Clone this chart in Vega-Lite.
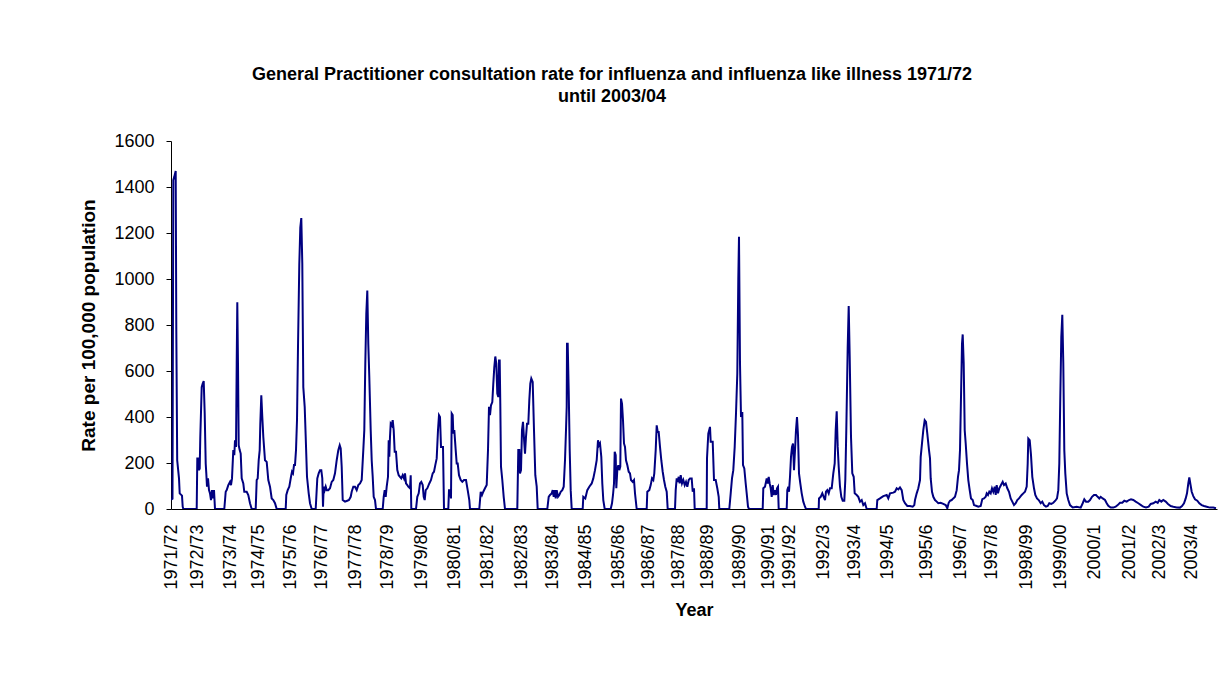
{
  "$schema": "https://vega.github.io/schema/vega-lite/v6.json",
  "autosize": {"type": "none"},
  "width": 1046,
  "height": 368,
  "padding": {"left": 171, "top": 141, "right": 1, "bottom": 164},
  "background": "white",
  "config": {"view": {"stroke": null}, "font": "Liberation Sans"},
  "title": {
    "text": ["General Practitioner consultation rate for influenza and influenza like illness 1971/72", "until 2003/04"],
    "fontSize": 18, "fontWeight": "bold", "font": "Liberation Sans", "color": "black",
    "lineHeight": 22, "anchor": "middle", "frame": "group", "dx": -82, "offset": 26
  },
  "data": {"values": [
{"t":0,"v":40},{"t":1.5,"v":45},{"t":2.3,"v":1430},{"t":3.3,"v":1445},{"t":4.7,"v":1470},{"t":5.3,"v":780},{"t":6.2,"v":212},{"t":8,"v":133},{"t":8.7,"v":68},{"t":11,"v":58},{"t":11.7,"v":10},{"t":12.3,"v":0},{"t":25.7,"v":0},
{"t":26.3,"v":220},{"t":27.3,"v":220},{"t":28,"v":169},{"t":28.7,"v":176},{"t":29.3,"v":314},{"t":30.7,"v":530},{"t":31.7,"v":545},{"t":32.7,"v":556},{"t":33.7,"v":415},{"t":34.7,"v":198},{"t":35.3,"v":155},{"t":36,"v":97},{"t":37,"v":133},{"t":38,"v":82},{"t":39,"v":68},{"t":40,"v":39},{"t":41,"v":82},{"t":42,"v":46},{"t":43,"v":82},{"t":44,"v":0},{"t":53.3,"v":0},
{"t":54.7,"v":75},{"t":55.7,"v":82},{"t":57.3,"v":104},{"t":59,"v":118},{"t":60,"v":104},{"t":61,"v":133},{"t":62.3,"v":256},{"t":63.3,"v":234},{"t":64,"v":299},{"t":65,"v":270},{"t":65.7,"v":632},{"t":66.3,"v":899},{"t":67,"v":632},{"t":67.7,"v":277},{"t":68.7,"v":256},{"t":69.7,"v":241},{"t":70.7,"v":133},{"t":72.3,"v":111},{"t":73.3,"v":75},{"t":75.7,"v":75},{"t":77.3,"v":61},{"t":79,"v":25},{"t":80.7,"v":0},{"t":84.7,"v":0},
{"t":85.7,"v":126},{"t":86.7,"v":133},{"t":87.7,"v":212},{"t":88.7,"v":256},{"t":89.3,"v":371},{"t":90.3,"v":494},{"t":91.3,"v":400},{"t":92.3,"v":314},{"t":94,"v":212},{"t":95.7,"v":205},{"t":97.3,"v":126},{"t":99,"v":97},{"t":100.7,"v":46},{"t":102.3,"v":39},{"t":104,"v":25},{"t":105.7,"v":0},{"t":114.7,"v":0},
{"t":115.3,"v":61},{"t":116.7,"v":82},{"t":118.3,"v":97},{"t":120,"v":140},{"t":121,"v":162},{"t":122,"v":155},{"t":123,"v":191},{"t":124,"v":191},{"t":125,"v":256},{"t":126,"v":386},{"t":127,"v":704},{"t":128.3,"v":1065},{"t":129.3,"v":1224},{"t":130.3,"v":1265},{"t":131.3,"v":1065},{"t":132.3,"v":530},{"t":133.7,"v":444},{"t":134.7,"v":314},{"t":136,"v":140},{"t":137.7,"v":68},{"t":139,"v":25},{"t":140.7,"v":0},{"t":144.7,"v":0},
{"t":146.3,"v":133},{"t":147.7,"v":155},{"t":149,"v":169},{"t":150.3,"v":169},{"t":151.3,"v":133},{"t":152,"v":10},{"t":152.7,"v":97},{"t":153.7,"v":82},{"t":154.7,"v":97},{"t":155.7,"v":82},{"t":157.3,"v":82},{"t":159,"v":90},{"t":160.7,"v":118},{"t":162.3,"v":126},{"t":164,"v":155},{"t":165.7,"v":212},{"t":167.3,"v":256},{"t":168.7,"v":277},{"t":169.7,"v":263},{"t":170.7,"v":184},{"t":171.7,"v":39},{"t":174,"v":32},{"t":176.3,"v":36},{"t":178,"v":39},{"t":179.7,"v":53},
{"t":180.7,"v":75},{"t":182.3,"v":97},{"t":184,"v":97},{"t":185.7,"v":82},{"t":187.3,"v":104},{"t":189,"v":111},{"t":190.7,"v":126},{"t":192.3,"v":256},{"t":193.3,"v":343},{"t":194.3,"v":632},{"t":195.3,"v":848},{"t":196.3,"v":950},{"t":197.3,"v":718},{"t":198.3,"v":574},{"t":199.7,"v":343},{"t":200.7,"v":212},{"t":201.7,"v":140},{"t":202.7,"v":53},{"t":204,"v":39},{"t":205,"v":0},{"t":211.7,"v":0},
{"t":212.7,"v":53},{"t":213.7,"v":82},{"t":214.7,"v":53},{"t":215.7,"v":97},{"t":217,"v":140},{"t":217.7,"v":299},{"t":218.3,"v":227},{"t":219,"v":314},{"t":219.7,"v":371},{"t":220.7,"v":364},{"t":221.7,"v":386},{"t":222.7,"v":343},{"t":223.7,"v":249},{"t":225,"v":249},{"t":226.3,"v":169},{"t":227.7,"v":147},{"t":229,"v":140},{"t":230.3,"v":133},{"t":231.7,"v":147},{"t":233,"v":133},{"t":234,"v":155},{"t":235,"v":111},{"t":236.3,"v":104},{"t":237.3,"v":97},{"t":239,"v":90},{"t":239.7,"v":147},{"t":240.3,"v":0},{"t":245,"v":0},
{"t":246.3,"v":53},{"t":247.7,"v":68},{"t":249,"v":111},{"t":250.3,"v":118},{"t":251.7,"v":104},{"t":252.7,"v":53},{"t":253.7,"v":39},{"t":254.7,"v":82},{"t":256.3,"v":90},{"t":258.3,"v":111},{"t":260,"v":126},{"t":261.7,"v":155},{"t":263,"v":162},{"t":264.3,"v":191},{"t":265.7,"v":220},{"t":267,"v":343},{"t":268,"v":408},{"t":269,"v":400},{"t":270,"v":270},{"t":272,"v":270},{"t":273,"v":0},{"t":277.3,"v":0},
{"t":278,"v":82},{"t":279.3,"v":82},{"t":280,"v":46},{"t":280.7,"v":415},{"t":281.7,"v":408},{"t":282.3,"v":328},{"t":283.3,"v":343},{"t":284.7,"v":256},{"t":285.7,"v":198},{"t":286.7,"v":198},{"t":288,"v":147},{"t":289.7,"v":126},{"t":291.3,"v":118},{"t":293,"v":126},{"t":295,"v":126},{"t":296.7,"v":82},{"t":298.3,"v":39},{"t":299,"v":0},{"t":308.3,"v":0},
{"t":309.7,"v":75},{"t":311,"v":61},{"t":312.3,"v":75},{"t":314,"v":90},{"t":315.7,"v":104},{"t":317,"v":256},{"t":318,"v":444},{"t":319,"v":408},{"t":320,"v":451},{"t":321.3,"v":465},{"t":322.3,"v":545},{"t":323.3,"v":617},{"t":324.3,"v":663},{"t":325.3,"v":632},{"t":326.3,"v":502},{"t":327.3,"v":487},{"t":328,"v":646},{"t":328.7,"v":646},{"t":329.3,"v":458},{"t":330,"v":184},{"t":331.3,"v":126},{"t":332.7,"v":53},{"t":334,"v":0},{"t":346.3,"v":0},
{"t":347.3,"v":256},{"t":348.3,"v":256},{"t":349,"v":155},{"t":350,"v":169},{"t":351,"v":343},{"t":352,"v":379},{"t":353.3,"v":285},{"t":354,"v":241},{"t":355,"v":314},{"t":356,"v":371},{"t":357.3,"v":371},{"t":358.3,"v":473},{"t":359.3,"v":545},{"t":360.3,"v":567},{"t":361.7,"v":552},{"t":363,"v":343},{"t":364.3,"v":147},{"t":365.7,"v":97},{"t":366.7,"v":0},{"t":376.3,"v":0},
{"t":377.7,"v":53},{"t":379,"v":61},{"t":380.7,"v":68},{"t":381.7,"v":82},{"t":382.7,"v":53},{"t":383.7,"v":82},{"t":384.7,"v":46},{"t":385.7,"v":82},{"t":387,"v":53},{"t":388.3,"v":61},{"t":389.7,"v":75},{"t":391.3,"v":82},{"t":392.7,"v":97},{"t":394,"v":212},{"t":395,"v":343},{"t":395.7,"v":444},{"t":396,"v":718},{"t":396.7,"v":718},{"t":397.7,"v":516},{"t":398.7,"v":256},{"t":399.7,"v":82},{"t":400.7,"v":0},{"t":411.7,"v":0},
{"t":412.3,"v":53},{"t":414.3,"v":46},{"t":416.3,"v":82},{"t":418.3,"v":97},{"t":420.7,"v":111},{"t":422.3,"v":133},{"t":424,"v":169},{"t":425.7,"v":212},{"t":427,"v":299},{"t":428,"v":277},{"t":429,"v":285},{"t":430.3,"v":227},{"t":431.3,"v":111},{"t":432.3,"v":39},{"t":433.7,"v":0},{"t":439.7,"v":0},
{"t":441,"v":25},{"t":442,"v":61},{"t":443,"v":111},{"t":443.7,"v":249},{"t":444.7,"v":234},{"t":445.3,"v":90},{"t":446.3,"v":169},{"t":447.3,"v":191},{"t":448.3,"v":169},{"t":449.3,"v":184},{"t":450,"v":480},{"t":451,"v":458},{"t":452,"v":386},{"t":453,"v":285},{"t":454,"v":270},{"t":455,"v":212},{"t":456.3,"v":191},{"t":457.7,"v":162},{"t":459,"v":155},{"t":460,"v":126},{"t":461.7,"v":118},{"t":463,"v":126},{"t":464,"v":68},{"t":465.7,"v":0},{"t":475.7,"v":0},
{"t":476.3,"v":75},{"t":478.3,"v":82},{"t":479.7,"v":104},{"t":481,"v":133},{"t":482.3,"v":126},{"t":483.3,"v":155},{"t":484.7,"v":256},{"t":485.7,"v":364},{"t":486.7,"v":335},{"t":487.7,"v":335},{"t":489,"v":270},{"t":490.3,"v":212},{"t":491.7,"v":162},{"t":493,"v":126},{"t":494.3,"v":97},{"t":495.7,"v":75},{"t":496.7,"v":0},{"t":504,"v":0},
{"t":504.7,"v":82},{"t":505.7,"v":133},{"t":506.7,"v":118},{"t":507.7,"v":140},{"t":508.7,"v":111},{"t":509.7,"v":147},{"t":511,"v":111},{"t":512.3,"v":126},{"t":513.7,"v":104},{"t":515,"v":118},{"t":516.3,"v":97},{"t":517.7,"v":126},{"t":519,"v":133},{"t":520.7,"v":133},{"t":521.7,"v":75},{"t":523,"v":90},{"t":523.7,"v":0},{"t":535.7,"v":0},
{"t":536,"v":220},{"t":537.3,"v":328},{"t":539,"v":357},{"t":539.7,"v":292},{"t":541.7,"v":292},{"t":543,"v":126},{"t":544.7,"v":126},{"t":546.3,"v":90},{"t":547.7,"v":53},{"t":548.3,"v":0},{"t":558.3,"v":0},
{"t":559.7,"v":68},{"t":561,"v":133},{"t":562.3,"v":169},{"t":563.7,"v":270},{"t":565,"v":415},{"t":566.3,"v":588},{"t":567.3,"v":1000},{"t":568,"v":1184},{"t":569,"v":632},{"t":570,"v":400},{"t":571.3,"v":422},{"t":572,"v":191},{"t":573.3,"v":176},{"t":574.7,"v":111},{"t":575.7,"v":68},{"t":577,"v":10},{"t":578,"v":0},{"t":591.7,"v":0},
{"t":592.3,"v":90},{"t":594,"v":97},{"t":595.7,"v":133},{"t":596.7,"v":111},{"t":597.7,"v":140},{"t":598.7,"v":111},{"t":599.7,"v":90},{"t":600.7,"v":53},{"t":601.7,"v":104},{"t":602.7,"v":61},{"t":604,"v":82},{"t":605,"v":61},{"t":606,"v":90},{"t":607,"v":97},{"t":607.7,"v":0},{"t":615.7,"v":0},
{"t":616.3,"v":82},{"t":617.3,"v":97},{"t":618,"v":75},{"t":619,"v":140},{"t":620,"v":227},{"t":621,"v":270},{"t":622,"v":285},{"t":623,"v":169},{"t":624,"v":256},{"t":625,"v":343},{"t":626,"v":400},{"t":627,"v":321},{"t":628,"v":155},{"t":629.3,"v":111},{"t":630.7,"v":68},{"t":632.3,"v":32},{"t":634,"v":10},{"t":635,"v":0},{"t":647.7,"v":0},
{"t":648,"v":46},{"t":649.7,"v":53},{"t":651.3,"v":68},{"t":652.7,"v":53},{"t":654,"v":39},{"t":655,"v":75},{"t":656.3,"v":82},{"t":657.7,"v":68},{"t":659,"v":90},{"t":660.7,"v":90},{"t":662.3,"v":155},{"t":663.7,"v":198},{"t":664.7,"v":343},{"t":665.7,"v":425},{"t":666.7,"v":270},{"t":667.7,"v":184},{"t":669,"v":97},{"t":670.3,"v":53},{"t":671.7,"v":36},{"t":673.3,"v":36},{"t":674.3,"v":126},{"t":675.3,"v":343},{"t":676.7,"v":704},{"t":677.7,"v":882},{"t":678.7,"v":661},{"t":680,"v":314},{"t":681.3,"v":155},{"t":682.7,"v":140},{"t":683.7,"v":68},{"t":685.7,"v":61},{"t":687.3,"v":53},{"t":689,"v":32},{"t":690.7,"v":39},{"t":692.3,"v":17},{"t":694,"v":25},{"t":695.7,"v":0},{"t":705.7,"v":0},
{"t":706.3,"v":39},{"t":709,"v":46},{"t":712.3,"v":56},{"t":715.7,"v":61},{"t":717.3,"v":46},{"t":719,"v":68},{"t":722.3,"v":71},{"t":724,"v":75},{"t":725.7,"v":90},{"t":727.3,"v":85},{"t":729,"v":94},{"t":730.7,"v":82},{"t":732.3,"v":39},{"t":734,"v":25},{"t":736.3,"v":13},{"t":739,"v":13},{"t":741.7,"v":10},{"t":743.3,"v":17},
{"t":744,"v":39},{"t":745.7,"v":68},{"t":747.3,"v":90},{"t":749,"v":126},{"t":749.7,"v":227},{"t":751,"v":285},{"t":752.3,"v":343},{"t":753.7,"v":386},{"t":755,"v":379},{"t":756.3,"v":328},{"t":758,"v":256},{"t":759,"v":220},{"t":759.7,"v":133},{"t":761,"v":75},{"t":762.3,"v":53},{"t":764,"v":39},{"t":765.7,"v":32},{"t":767.3,"v":25},{"t":769.7,"v":27},{"t":772.3,"v":22},{"t":774.7,"v":17},{"t":776.3,"v":3},{"t":777.7,"v":27},
{"t":779,"v":36},{"t":780.7,"v":39},{"t":782.3,"v":46},{"t":784,"v":53},{"t":785.7,"v":82},{"t":787,"v":140},{"t":788,"v":169},{"t":789,"v":256},{"t":790,"v":487},{"t":791,"v":718},{"t":791.7,"v":759},{"t":792.7,"v":632},{"t":793.7,"v":343},{"t":794.7,"v":285},{"t":796,"v":198},{"t":797.3,"v":126},{"t":798.7,"v":82},{"t":800,"v":46},{"t":801.7,"v":39},{"t":803,"v":17},{"t":805,"v":14},{"t":807.3,"v":10},{"t":809.7,"v":13},{"t":811.3,"v":43},
{"t":813,"v":46},{"t":814.7,"v":53},{"t":815.7,"v":68},{"t":817,"v":61},{"t":818.3,"v":75},{"t":819.7,"v":68},{"t":821,"v":90},{"t":822.3,"v":75},{"t":823.7,"v":97},{"t":824.7,"v":61},{"t":825.7,"v":104},{"t":827,"v":68},{"t":828.3,"v":90},{"t":830,"v":104},{"t":831.7,"v":118},{"t":833,"v":104},{"t":834.7,"v":111},{"t":836.3,"v":90},{"t":838,"v":75},{"t":839.7,"v":46},{"t":841.3,"v":32},{"t":843,"v":17},{"t":844.7,"v":25},{"t":846.3,"v":39},{"t":848,"v":46},{"t":850.7,"v":61},{"t":852.3,"v":68},{"t":854,"v":75},
{"t":855.7,"v":97},{"t":856.7,"v":198},{"t":857.3,"v":306},{"t":858.7,"v":299},{"t":860,"v":234},{"t":861.3,"v":140},{"t":863,"v":90},{"t":864.3,"v":61},{"t":866,"v":46},{"t":867.7,"v":39},{"t":869.7,"v":25},{"t":871.3,"v":32},{"t":873,"v":17},{"t":875,"v":10},{"t":876.7,"v":13},{"t":878.3,"v":25},{"t":880.3,"v":22},
{"t":882.3,"v":27},{"t":884.3,"v":36},{"t":886,"v":46},{"t":887.3,"v":82},{"t":888.3,"v":198},{"t":889.3,"v":487},{"t":890.3,"v":747},{"t":891.3,"v":844},{"t":892.3,"v":632},{"t":893.3,"v":256},{"t":894.3,"v":155},{"t":895.7,"v":68},{"t":897.3,"v":39},{"t":899,"v":17},{"t":901.7,"v":7},{"t":905.7,"v":10},{"t":909.7,"v":6},
{"t":911.7,"v":25},{"t":913.3,"v":42},{"t":915,"v":32},{"t":917.3,"v":32},{"t":919,"v":39},{"t":921,"v":53},{"t":923,"v":61},{"t":925,"v":61},{"t":926.7,"v":53},{"t":928.3,"v":46},{"t":929.7,"v":53},{"t":931.7,"v":46},{"t":934,"v":39},{"t":935.7,"v":25},{"t":937.3,"v":14},{"t":939.7,"v":6},{"t":942.3,"v":6},{"t":944.7,"v":10},
{"t":946.7,"v":17},{"t":949,"v":27},{"t":951.3,"v":27},{"t":953.3,"v":36},{"t":955.7,"v":32},{"t":958,"v":39},{"t":960,"v":42},{"t":962.3,"v":39},{"t":964.7,"v":32},{"t":967.3,"v":25},{"t":970,"v":17},{"t":972.3,"v":10},{"t":975,"v":7},{"t":977.7,"v":10},
{"t":979.7,"v":22},{"t":982.3,"v":25},{"t":984.7,"v":32},{"t":986.7,"v":27},{"t":988.3,"v":39},{"t":990.3,"v":32},{"t":992.3,"v":39},{"t":994.7,"v":32},{"t":997,"v":22},{"t":999.7,"v":13},{"t":1002.3,"v":10},{"t":1005.7,"v":7},{"t":1009,"v":6},{"t":1011,"v":13},
{"t":1013,"v":25},{"t":1014.7,"v":46},{"t":1016,"v":68},{"t":1017.3,"v":111},{"t":1018.3,"v":137},{"t":1019.3,"v":111},{"t":1020.7,"v":75},{"t":1022.3,"v":56},{"t":1024,"v":42},{"t":1026.3,"v":36},{"t":1028.3,"v":25},{"t":1030.7,"v":17},{"t":1033,"v":13},{"t":1035.7,"v":10},{"t":1039,"v":6},{"t":1042.3,"v":6},{"t":1045,"v":3}
  ]},
  "mark": {"type": "line", "color": "#000080", "strokeWidth": 2, "clip": true},
  "encoding": {
    "x": {
      "field": "t", "type": "quantitative",
      "scale": {"domain": [0, 1046], "nice": false, "zero": false},
      "axis": {
        "values": [0,26,59,87,119,150,184,216,250,283,316,350,381,414,447,477,507,536,568,597,618,652,683,716,755,789,820,855,889,923,958,988,1020],
        "labelExpr": "['1971/72','1972/73','1973/74','1974/75','1975/76','1976/77','1977/78','1978/79','1979/80','1980/81','1981/82','1982/83','1983/84','1984/85','1985/86','1986/87','1987/88','1988/89','1989/90','1990/91','1991/92','1992/3','1993/4','1994/5','1995/6','1996/7','1997/8','1998/99','1999/00','2000/1','2001/2','2002/3','2003/4'][indexof([0,26,59,87,119,150,184,216,250,283,316,350,381,414,447,477,507,536,568,597,618,652,683,716,755,789,820,855,889,923,958,988,1020], datum.value)]",
        "labelAngle": 270, "labelAlign": "right", "labelBaseline": "middle",
        "labelOverlap": false, "labelFlush": false, "labelBound": false,
        "labelFontSize": 18, "labelFont": "Liberation Sans", "labelColor": "black", "labelPadding": 15,
        "ticks": false, "grid": false, "domainColor": "black", "domainWidth": 1,
        "title": "Year", "titleFontSize": 18, "titleFont": "Liberation Sans", "titleFontWeight": "bold", "titleColor": "black", "titlePadding": 12
      }
    },
    "y": {
      "field": "v", "type": "quantitative",
      "scale": {"domain": [0, 1600], "nice": false},
      "axis": {
        "values": [0,200,400,600,800,1000,1200,1400,1600],
        "format": "d",
        "labelFontSize": 18, "labelFont": "Liberation Sans", "labelColor": "black", "labelPadding": 12,
        "ticks": true, "tickSize": 5, "tickColor": "black", "grid": false, "domainColor": "black", "domainWidth": 1,
        "title": "Rate per 100,000 population", "titleFontSize": 19, "titleFont": "Liberation Sans", "titleFontWeight": "bold", "titleColor": "black", "titlePadding": 15
      }
    }
  }
}
